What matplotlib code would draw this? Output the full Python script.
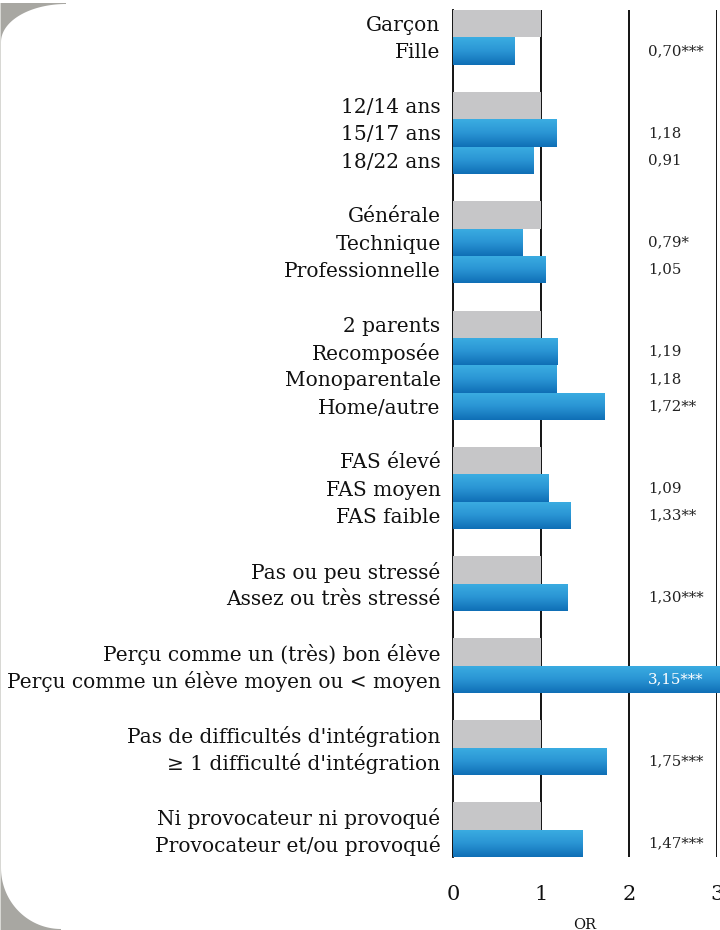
import numpy as np
import matplotlib
matplotlib.use("Agg")
import matplotlib.pyplot as plt
from matplotlib.colors import LinearSegmentedColormap
from matplotlib.patches import Polygon

# ---------------- data ----------------
categories = [
    "Garçon", "Fille", "",
    "12/14 ans", "15/17 ans", "18/22 ans", "",
    "Générale", "Technique", "Professionnelle", "",
    "2 parents", "Recomposée", "Monoparentale", "Home/autre", "",
    "FAS élevé", "FAS moyen", "FAS faible", "",
    "Pas ou peu stressé", "Assez ou très stressé", "",
    "Perçu comme un (très) bon élève", "Perçu comme un élève moyen ou < moyen", "",
    "Pas de difficultés d'intégration", "≥ 1 difficulté d'intégration", "",
    "Ni provocateur ni provoqué", "Provocateur et/ou provoqué",
]
values = [
    1, 0.70, None,
    1, 1.18, 0.91, None,
    1, 0.79, 1.05, None,
    1, 1.19, 1.18, 1.72, None,
    1, 1.09, 1.33, None,
    1, 1.30, None,
    1, 3.15, None,
    1, 1.75, None,
    1, 1.47,
]
is_reference = [
    True, False, None,
    True, False, False, None,
    True, False, False, None,
    True, False, False, False, None,
    True, False, False, None,
    True, False, None,
    True, False, None,
    True, False, None,
    True, False,
]
annotations = [
    "", "0,70***", "",
    "", "1,18", "0,91", "",
    "", "0,79*", "1,05", "",
    "", "1,19", "1,18", "1,72**", "",
    "", "1,09", "1,33**", "",
    "", "1,30***", "",
    "", "3,15***", "",
    "", "1,75***", "",
    "", "1,47***",
]
x_ticks = [0, 1, 2, 3]
x_label = "OR"

# ---------------- style ----------------
SERIF = ["DejaVu Serif"]
GREY_BAR = "#C6C6C8"
DECO = "#A8A7A2"
blue_cmap = LinearSegmentedColormap.from_list("blue", ["#0F6FB6", "#2A95D4", "#3BADE2"])
grad = np.linspace(1, 0, 64).reshape(-1, 1)   # light on top, dark at bottom

fig = plt.figure(figsize=(7.2, 9.3), dpi=100)
W, H = 720, 930

def px(pts):
    return [(x / W, 1 - y / H) for x, y in pts]

# decorative grey corners (page background)
cx, cy, rx, ry = 66, 42, 65, 38
t = np.radians(np.linspace(-90, -180, 50))
arc = [(cx + rx * np.cos(a), cy + ry * np.sin(a)) for a in t]
fig.patches.append(Polygon(px([(0, 3), (cx, 3)] + arc + [(0, cy)]), closed=True,
                           transform=fig.transFigure, facecolor=DECO,
                           edgecolor="none", zorder=0))
cx, cy, rx, ry = 61, 868, 60, 61
t = np.radians(np.linspace(180, 90, 50))
arc = [(cx + rx * np.cos(a), cy + ry * np.sin(a)) for a in t]
fig.patches.append(Polygon(px([(0, cy)] + arc + [(cx, 931), (0, 931)]), closed=True,
                           transform=fig.transFigure, facecolor=DECO,
                           edgecolor="none", zorder=0))
fig.patches.append(Polygon(px([(0, 3), (1, 3), (1, 930), (0, 930)]), closed=True,
                           transform=fig.transFigure, facecolor="#D8D8D4",
                           edgecolor="none", zorder=0))

ax = fig.add_axes([453 / W, 1 - 857 / H, (717 - 453) / W, (857 - 10) / H])
ax.patch.set_alpha(0)

n = len(categories)
ypos = np.arange(n)

for i in range(n):
    v = values[i]
    if v is None:
        continue
    if is_reference[i]:
        ax.barh(ypos[i], v, height=1.0, color=GREY_BAR, zorder=2)
    else:
        bar = ax.barh(ypos[i], v, height=1.0, color="none", zorder=2)[0]
        x0, y0 = bar.get_x(), bar.get_y()
        w, h = bar.get_width(), bar.get_height()
        im = ax.imshow(grad, extent=[x0, x0 + w, y0 + h, y0], aspect="auto",
                       cmap=blue_cmap, origin="upper", zorder=2.5,
                       interpolation="bilinear")
        im.set_clip_path(bar)
    if annotations[i]:
        col = "white" if v > 2.2 else "#222222"
        ax.text(2.215, ypos[i], annotations[i], ha="left", va="center",
                fontsize=10.8, color=col, family=SERIF, zorder=4)

for xv in [1, 2, 3]:
    ax.axvline(xv, color="black", lw=1.3, zorder=1)

ax.set_xlim(0, 3)
ax.set_ylim(n - 0.5, -0.5)
ax.set_aspect("auto")

for s in ["top", "bottom", "right"]:
    ax.spines[s].set_visible(False)
ax.spines["left"].set_color("black")
ax.spines["left"].set_linewidth(1.3)
ax.spines["left"].set_zorder(1)

tick_idx = [i for i in range(n) if categories[i]]
ax.set_yticks(ypos[tick_idx])
ax.set_yticklabels([categories[i] for i in tick_idx], family=SERIF, fontsize=14.5,
                   color="#111111")
ax.tick_params(axis="y", length=0, pad=9)

ax.set_xticks(x_ticks)
ax.set_xticklabels([str(t) for t in x_ticks], family=SERIF, fontsize=15, color="#111111")
ax.tick_params(axis="x", length=0, pad=20)
ax.set_xlabel(x_label, family=SERIF, fontsize=10.5, labelpad=10, color="#111111")

fig.savefig("out.png", dpi=100)
